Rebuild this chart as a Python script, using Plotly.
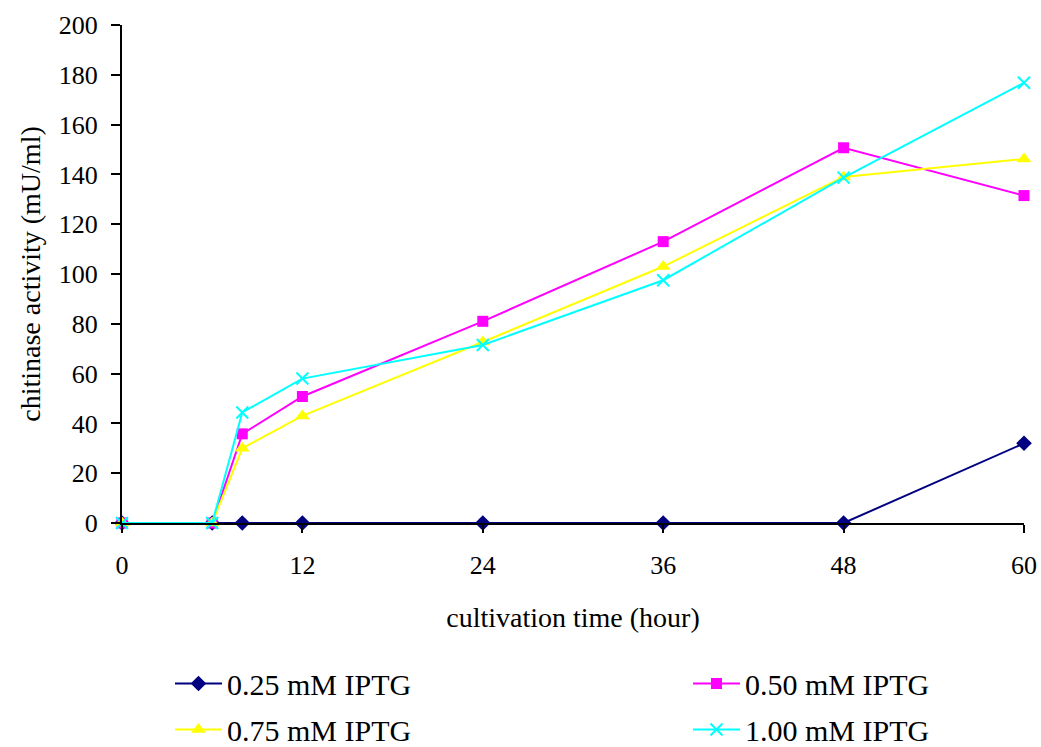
import plotly.graph_objects as go

# cultivation time (hour)
hours = [0, 6, 8, 12, 24, 36, 48, 60]

# chitinase activity (mU/ml) for each IPTG concentration
iptg_025 = [0, 0, 0, 0, 0, 0, 0, 32]
iptg_050 = [0, 0, 35.8, 50.8, 81, 113, 150.7, 131.5]
iptg_075 = [0, 0, 30, 43, 72.7, 103, 139, 146.2]
iptg_100 = [0, 0, 44.4, 58, 71.5, 97.5, 138.7, 176.8]

series_names = ["0.25 mM IPTG", "0.50 mM IPTG", "0.75 mM IPTG", "1.00 mM IPTG"]
x_ticks = [0, 12, 24, 36, 48, 60]
y_ticks = [0, 20, 40, 60, 80, 100, 120, 140, 160, 180, 200]

styles = [
    dict(color="#000080", symbol="diamond", size=12, legend="legend"),
    dict(color="#FF00FF", symbol="square", size=11, legend="legend2"),
    dict(color="#FFFF00", symbol="triangle-up", size=13, legend="legend"),
    dict(color="#00FFFF", symbol="x-thin", size=12, legend="legend2"),
]

fig = go.Figure()
for name, vals, st in zip(series_names, [iptg_025, iptg_050, iptg_075, iptg_100], styles):
    marker = dict(color=st["color"], symbol=st["symbol"], size=st["size"])
    if st["symbol"] == "x-thin":
        marker["line"] = dict(color=st["color"], width=2)
    fig.add_trace(go.Scatter(
        x=hours, y=vals, name=name, mode="lines+markers",
        line=dict(color=st["color"], width=2),
        marker=marker, cliponaxis=False,
        legend=st["legend"], legendgroup=name,
    ))

font_family = "Liberation Serif, Times New Roman, serif"
legend_font = dict(family=font_family, size=30, color="black")

fig.update_layout(
    width=1041, height=747,
    margin=dict(l=122, r=17, t=25, b=224, autoexpand=False),
    paper_bgcolor="white", plot_bgcolor="white",
    font=dict(family=font_family, size=26, color="black"),
    showlegend=True,
    legend=dict(
        orientation="v", x=0.0532, y=-0.27, xanchor="left", yanchor="top",
        font=legend_font, tracegroupgap=4, itemwidth=47,
        bgcolor="rgba(0,0,0,0)",
    ),
    legend2=dict(
        orientation="v", x=0.6275, y=-0.27, xanchor="left", yanchor="top",
        font=legend_font, tracegroupgap=4, itemwidth=47,
        bgcolor="rgba(0,0,0,0)",
    ),
    xaxis=dict(
        range=[0, 60], tickvals=x_ticks, ticks="outside", ticklen=8,
        tickwidth=1.5, tickcolor="black", showline=True, linecolor="black",
        linewidth=2, showgrid=False, zeroline=False, ticklabelstandoff=10,
        tickfont=dict(size=26),
        title=dict(text="cultivation time (hour)", standoff=28,
                   font=dict(family=font_family, size=28)),
    ),
    yaxis=dict(
        range=[0, 200], tickvals=y_ticks, ticks="outside", ticklen=9,
        tickwidth=1.5, tickcolor="black", showline=True, linecolor="black",
        linewidth=2, showgrid=False, zeroline=False, ticklabelstandoff=8,
        tickfont=dict(size=26),
        title=dict(text="chitinase activity (mU/ml)", standoff=10,
                   font=dict(family=font_family, size=28)),
    ),
)

fig.write_html("out.html")
